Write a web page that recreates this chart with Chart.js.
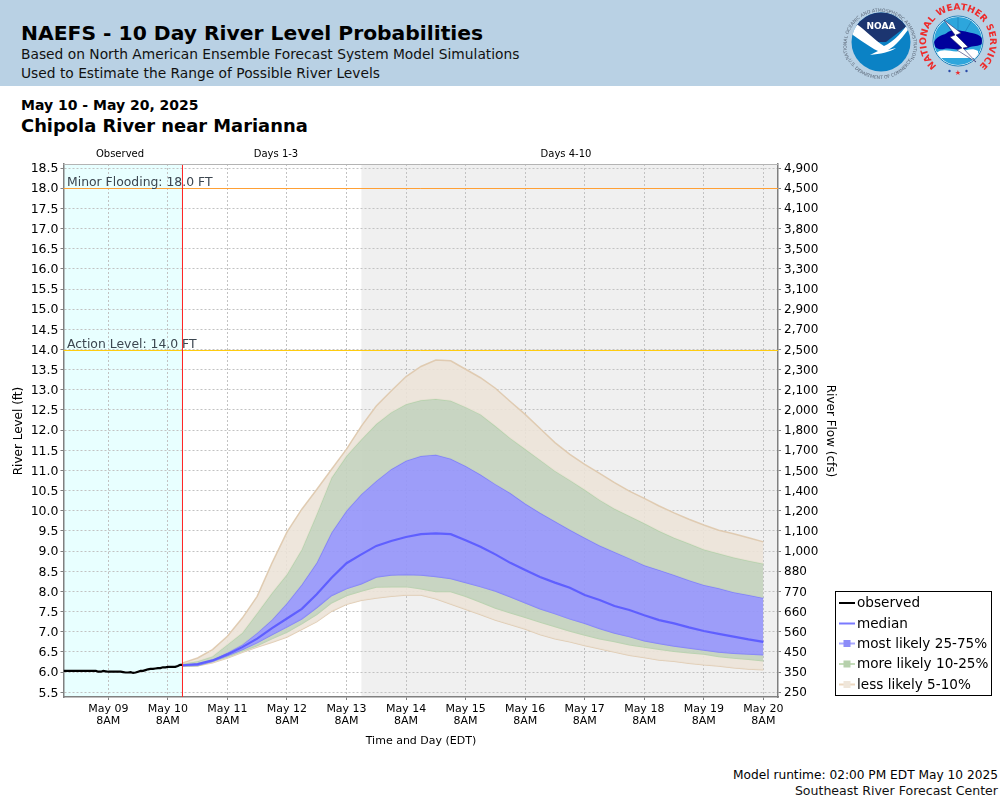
<!DOCTYPE html>
<html>
<head>
<meta charset="utf-8">
<title>NAEFS - 10 Day River Level Probabilities</title>
<script src="https://cdn.jsdelivr.net/npm/chart.js@4"></script>
<style>
    html, body { margin: 0; padding: 0; background: #fff; }
    body { position: relative; width: 1000px; height: 800px; overflow: hidden; font-family: "DejaVu Sans", sans-serif; color: #000; }
    #header { position: absolute; left: 0; top: 0; width: 1000px; height: 86px; background: #b9d1e4; }
    .txt { position: absolute; white-space: nowrap; }
    canvas { position: absolute; left: 0; top: 0; }
    svg { position: absolute; left: 0; top: 0; }
</style>
</head>
<body>
<div id="header"></div>
<div class="txt" style="left:21px;top:19px;font-size:20.3px;font-weight:bold;line-height:28px">NAEFS - 10 Day River Level Probabilities</div>
<div class="txt" style="left:21px;top:45px;font-size:13.8px;line-height:18px;color:#111">Based on North American Ensemble Forecast System Model Simulations</div>
<div class="txt" style="left:21px;top:64px;font-size:13.8px;line-height:18px;color:#111">Used to Estimate the Range of Possible River Levels</div>
<div class="txt" style="left:21px;top:96px;font-size:14px;font-weight:bold;line-height:18px">May 10 - May 20, 2025</div>
<div class="txt" style="left:21px;top:114px;font-size:17.9px;font-weight:bold;line-height:24px">Chipola River near Marianna</div>
<div class="txt" style="right:2px;top:767px;font-size:12.2px;line-height:16px">Model runtime: 02:00 PM EDT May 10 2025</div>
<div class="txt" style="right:2px;top:783px;font-size:12.55px;line-height:16px;color:#111">Southeast River Forecast Center</div>

<canvas id="riverChart" width="1000" height="800"></canvas>

<!-- logos, drawn by hand -->
<svg width="1000" height="86" viewBox="0 0 1000 86">
    <defs>
        <path id="noaaTop" d="M 851 62 A 33.5 33.5 0 1 1 909 62"/>
        <path id="noaaBottom" d="M 847 58 A 36.5 36.5 0 0 0 913 58"/>
        <path id="nwsTop" d="M 937 66 A 32 32 0 1 1 979 66"/>
        <clipPath id="noaaClip"><circle cx="881" cy="42" r="29.5"/></clipPath>
        <clipPath id="nwsClip"><circle cx="958" cy="41" r="24"/></clipPath>
    </defs>
    <text font-size="4.6" fill="#5a6676" font-family="DejaVu Sans"><textPath href="#noaaTop" startOffset="50%" text-anchor="middle">NATIONAL OCEANIC AND ATMOSPHERIC ADMINISTRATION</textPath></text>
    <text font-size="4.6" fill="#5a6676" font-family="DejaVu Sans"><textPath href="#noaaBottom" startOffset="50%" text-anchor="middle">U.S. DEPARTMENT OF COMMERCE</textPath></text>
    <g clip-path="url(#noaaClip)">
        <rect x="850" y="10" width="62" height="64" fill="#0b82c5"/>
        <path d="M 850 10 H 912 V 22 L 886 42 L 878 42 L 850 22 Z" fill="#1c3570"/>
        <path d="M 850 20 C 862 26 874 40 884 46 C 894 42 904 30 912 18 V 24 C 904 36 896 46 888 50 L 896 48 C 890 52 880 54 870 55 L 878 51 C 868 46 858 38 850 33 Z" fill="#fff"/>
    </g>
    <text x="881" y="29" text-anchor="middle" font-size="9" font-weight="bold" fill="#fff" font-family="DejaVu Sans">NOAA</text>

    <text font-size="9.2" font-weight="bold" fill="#ee2a2a" font-family="DejaVu Sans" letter-spacing="0.1"><textPath href="#nwsTop" startOffset="50%" text-anchor="middle">NATIONAL WEATHER SERVICE</textPath></text>
    <circle cx="958" cy="41" r="25" fill="#fff" stroke="#1b7fb8" stroke-width="1"/>
    <g clip-path="url(#nwsClip)">
        <rect x="934" y="17" width="48" height="48" fill="#2da6dc"/>
        <path d="M 958 17 V 32 M 945 20 L 952 32 M 972 20 L 965 32" stroke="#1b7fb8" stroke-width="0.7" fill="none"/>
        <path d="M 934 42 C 938 34 944 36 948 32 C 954 28 966 32 972 33 C 978 34 984 37 983 43 C 980 47 974 45 968 48 C 960 52 950 47 944 49 C 938 50 934 48 934 42 Z" fill="#00009c"/>
        <path d="M 936 53 C 944 47 952 53 960 51 C 966 51 972 47 978 51 V 58 H 936 Z" fill="#fff"/>
    </g>
    <path d="M 944 20 L 961 33 L 956 35 L 968 47 L 963 48 L 976 62 L 957 50 L 962 48 L 950 37 L 955 35 Z" fill="#fff" stroke="#2a2a6a" stroke-width="0.6"/>
    <circle cx="949.5" cy="71" r="1.2" fill="#2a4aa8"/>
    <circle cx="966.5" cy="71" r="1.2" fill="#2a4aa8"/>
    <text x="958" y="75" text-anchor="middle" font-size="7" fill="#ee2a2a" font-family="DejaVu Sans">★</text>
</svg>

<script>
// Hours are counted from May 09 8AM
const tickHours = [0, 24, 48, 72, 96, 120, 144, 168, 192, 216, 240, 264];
const tickDays = ['May 09', 'May 10', 'May 11', 'May 12', 'May 13', 'May 14', 'May 15', 'May 16', 'May 17', 'May 18', 'May 19', 'May 20'];

// Left and right axis labels, same positions (rating curve is not linear)
const stageTicks = [5.5, 6, 6.5, 7, 7.5, 8, 8.5, 9, 9.5, 10, 10.5, 11, 11.5, 12, 12.5, 13, 13.5, 14, 14.5, 15, 15.5, 16, 16.5, 17, 17.5, 18, 18.5];
const flowTicks = ['250', '350', '450', '560', '660', '770', '880', '1,000', '1,100', '1,200', '1,400', '1,500', '1,700', '1,800', '2,000', '2,100', '2,300', '2,500', '2,700', '2,900', '3,100', '3,300', '3,500', '3,800', '4,100', '4,500', '4,900'];

const observedHours = [-18, -17, -16, -15, -14, -13, -12, -11, -10, -9, -8, -7, -6, -5, -4, -3, -2, -1, 0, 1, 2, 3, 4, 5, 6, 7, 8, 9, 10, 11, 12, 13, 14, 15, 16, 17, 18, 19, 20, 21, 22, 23, 24, 25, 26, 27, 28, 29, 30];
const observed = [6.03, 6.03, 6.03, 6.03, 6.03, 6.03, 6.03, 6.03, 6.03, 6.03, 6.03, 6.03, 6.03, 6.03, 6.01, 6.01, 6.03, 6.02, 6.01, 6.01, 6.01, 6.01, 6.01, 6.01, 6.0, 5.99, 5.99, 6.0, 5.98, 5.99, 6.01, 6.03, 6.03, 6.05, 6.07, 6.08, 6.08, 6.09, 6.1, 6.1, 6.12, 6.12, 6.13, 6.13, 6.13, 6.13, 6.15, 6.18, 6.18];

const forecastHours = [30, 36, 42, 48, 54, 60, 66, 72, 78, 84, 90, 96, 102, 108, 114, 120, 126, 132, 138, 144, 150, 156, 162, 168, 174, 180, 186, 192, 198, 204, 210, 216, 222, 228, 234, 240, 246, 252, 258, 264];
const median = [6.17, 6.2, 6.29, 6.44, 6.62, 6.83, 7.09, 7.33, 7.57, 7.93, 8.34, 8.7, 8.92, 9.13, 9.25, 9.35, 9.42, 9.44, 9.42, 9.27, 9.11, 8.92, 8.71, 8.53, 8.36, 8.22, 8.09, 7.91, 7.79, 7.64, 7.54, 7.41, 7.29, 7.21, 7.11, 7.02, 6.95, 6.88, 6.81, 6.75];
const upper5 = [6.23, 6.35, 6.56, 6.89, 7.34, 7.88, 8.71, 9.47, 10.04, 10.53, 11.03, 11.53, 12.1, 12.6, 12.97, 13.33, 13.58, 13.74, 13.72, 13.51, 13.3, 13.04, 12.71, 12.39, 12.04, 11.69, 11.4, 11.15, 10.93, 10.7, 10.49, 10.31, 10.12, 9.95, 9.79, 9.65, 9.52, 9.43, 9.33, 9.23];
const upper10 = [6.21, 6.27, 6.39, 6.68, 6.97, 7.46, 7.96, 8.42, 9.04, 9.91, 10.82, 11.36, 11.77, 12.15, 12.44, 12.64, 12.74, 12.77, 12.73, 12.57, 12.39, 12.1, 11.8, 11.53, 11.26, 10.99, 10.76, 10.52, 10.27, 10.05, 9.87, 9.69, 9.5, 9.33, 9.19, 9.04, 8.94, 8.84, 8.76, 8.69];
const upper25 = [6.19, 6.21, 6.3, 6.48, 6.68, 6.97, 7.3, 7.71, 8.17, 8.71, 9.46, 10.0, 10.41, 10.74, 11.03, 11.24, 11.36, 11.39, 11.29, 11.11, 10.9, 10.66, 10.44, 10.18, 9.95, 9.74, 9.53, 9.33, 9.14, 8.98, 8.82, 8.65, 8.53, 8.41, 8.28, 8.16, 8.08, 7.98, 7.91, 7.84];
const lower25 = [6.16, 6.17, 6.27, 6.41, 6.56, 6.73, 6.93, 7.12, 7.32, 7.6, 7.9, 8.07, 8.19, 8.36, 8.41, 8.42, 8.41, 8.37, 8.32, 8.22, 8.12, 8.01, 7.87, 7.72, 7.57, 7.45, 7.32, 7.21, 7.08, 6.97, 6.88, 6.78, 6.71, 6.65, 6.6, 6.55, 6.5, 6.47, 6.45, 6.43];
const lower10 = [6.15, 6.16, 6.26, 6.38, 6.52, 6.66, 6.83, 6.99, 7.2, 7.43, 7.72, 7.9, 8.01, 8.11, 8.12, 8.12, 8.07, 8.0, 8.0, 7.88, 7.74, 7.59, 7.47, 7.36, 7.24, 7.13, 7.02, 6.92, 6.83, 6.76, 6.68, 6.62, 6.57, 6.52, 6.48, 6.45, 6.39, 6.35, 6.32, 6.28];
const lower5 = [6.15, 6.16, 6.23, 6.35, 6.49, 6.62, 6.74, 6.87, 7.06, 7.25, 7.51, 7.68, 7.78, 7.84, 7.88, 7.91, 7.91, 7.82, 7.69, 7.56, 7.43, 7.29, 7.18, 7.07, 6.93, 6.83, 6.75, 6.66, 6.58, 6.5, 6.42, 6.36, 6.3, 6.27, 6.22, 6.18, 6.15, 6.11, 6.08, 6.06];

// Flood levels and forecast periods
const minorFlood = 18;
const actionLevel = 14;
const nowHour = 29.9;
const days4Start = 102;

const FONT = '"DejaVu Sans", sans-serif';
const GRID = '#c2c2c2';
const TAN = 'rgba(236,227,215,0.88)';
const GREEN = 'rgba(196,211,190,0.92)';
const BLUE = 'rgba(150,150,250,0.92)';
const TAN_EDGE = 'rgba(222,200,172,0.9)';
const GREEN_EDGE = 'rgba(180,208,170,0.9)';
const BLUE_EDGE = 'rgba(125,125,250,0.9)';

const legendItems = [
    { label: 'observed', line: '#000000', box: null },
    { label: 'median', line: '#7a7aff', box: null },
    { label: 'most likely 25-75%', line: '#a8a8ff', box: '#8c8cf8' },
    { label: 'more likely 10-25%', line: '#c4dcba', box: '#b6d0ac' },
    { label: 'less likely 5-10%', line: '#ecd8c0', box: '#efe6da' }
];

function toPoints(hours, values) {
    return values.map((v, i) => ({ x: hours[i], y: v }));
}

function bandSet(label, values, edge, fillColor) {
    return {
        label: label,
        data: toPoints(forecastHours, values),
        borderColor: edge,
        borderWidth: 1.5,
        pointRadius: 0,
        backgroundColor: fillColor || 'transparent',
        fill: fillColor ? '+1' : false,
        order: 5
    };
}

// Background zones, drawn under the grid
const zonePlugin = {
    id: 'zones',
    beforeDraw(chart) {
        const { ctx, chartArea: a, scales: { x } } = chart;
        ctx.save();
        ctx.fillStyle = '#e8ffff';
        ctx.fillRect(a.left, a.top, x.getPixelForValue(nowHour) - a.left, a.height);
        ctx.fillStyle = '#f0f0f0';
        ctx.fillRect(x.getPixelForValue(days4Start), a.top, a.right - x.getPixelForValue(days4Start), a.height);
        ctx.restore();
    }
};

// Flood lines, red line, small labels and legend
const overlayPlugin = {
    id: 'overlay',
    afterDatasetsDraw(chart) {
        const { ctx, chartArea: a, scales: { x, y } } = chart;
        ctx.save();

        ctx.lineWidth = 1;
        ctx.strokeStyle = '#ffa035';
        ctx.beginPath();
        ctx.moveTo(a.left, Math.round(y.getPixelForValue(minorFlood)) + 0.5);
        ctx.lineTo(a.right, Math.round(y.getPixelForValue(minorFlood)) + 0.5);
        ctx.stroke();
        ctx.strokeStyle = '#ffcc10';
        ctx.beginPath();
        ctx.moveTo(a.left, Math.round(y.getPixelForValue(actionLevel)) + 0.5);
        ctx.lineTo(a.right, Math.round(y.getPixelForValue(actionLevel)) + 0.5);
        ctx.stroke();

        ctx.strokeStyle = '#ff2020';
        ctx.beginPath();
        ctx.moveTo(x.getPixelForValue(nowHour), a.top);
        ctx.lineTo(x.getPixelForValue(nowHour), a.bottom);
        ctx.stroke();

        ctx.strokeStyle = '#b4b4b4';
        ctx.beginPath();
        ctx.moveTo(a.left, a.top + 0.5);
        ctx.lineTo(a.right, a.top + 0.5);
        ctx.stroke();

        ctx.fillStyle = '#3c4650';
        ctx.font = '12.4px ' + FONT;
        ctx.textAlign = 'left';
        ctx.textBaseline = 'alphabetic';
        ctx.fillText('Minor Flooding: ' + minorFlood.toFixed(1) + ' FT', 67, y.getPixelForValue(minorFlood) - 2);
        ctx.fillText('Action Level: ' + actionLevel.toFixed(1) + ' FT', 67, y.getPixelForValue(actionLevel) - 2);

        ctx.restore();
    },
    afterDraw(chart) {
        const { ctx } = chart;
        ctx.save();
        ctx.fillStyle = '#000';

        // period names above the plot
        ctx.font = '10px ' + FONT;
        ctx.textAlign = 'center';
        ctx.textBaseline = 'alphabetic';
        ctx.fillText('Observed', 120, 157);
        ctx.fillText('Days 1-3', 276, 157);
        ctx.fillText('Days 4-10', 566, 157);

        // axis titles
        ctx.font = '11px ' + FONT;
        ctx.fillText('Time and Day (EDT)', 421, 744);
        ctx.font = '12px ' + FONT;
        ctx.save();
        ctx.translate(22, 431);
        ctx.rotate(-Math.PI / 2);
        ctx.fillText('River Level (ft)', 0, 0);
        ctx.restore();
        ctx.save();
        ctx.translate(827, 431);
        ctx.rotate(Math.PI / 2);
        ctx.fillText('River Flow (cfs)', 0, 0);
        ctx.restore();

        // legend box
        ctx.fillStyle = '#fff';
        ctx.fillRect(835.5, 591.5, 156, 104);
        ctx.strokeStyle = '#000';
        ctx.lineWidth = 1;
        ctx.strokeRect(835.5, 591.5, 156, 104);
        ctx.font = '13.6px ' + FONT;
        ctx.textAlign = 'left';
        ctx.textBaseline = 'middle';
        const rows = [603, 623.5, 643.5, 664, 684.5];
        legendItems.forEach((item, i) => {
            ctx.strokeStyle = item.line;
            ctx.lineWidth = 2;
            ctx.beginPath();
            ctx.moveTo(839, rows[i]);
            ctx.lineTo(855, rows[i]);
            ctx.stroke();
            if (item.box) {
                ctx.fillStyle = item.box;
                ctx.fillRect(843.5, rows[i] - 3.5, 7, 7);
            }
            ctx.fillStyle = '#000';
            ctx.fillText(item.label, 857, rows[i] + 0.5);
        });
        ctx.restore();
    }
};

const ctx = document.getElementById('riverChart').getContext('2d');
window.riverChart = new Chart(ctx, {
    type: 'line',
    data: {
        datasets: [
            { label: 'observed', data: toPoints(observedHours, observed), borderColor: '#000', borderWidth: 2.2, pointRadius: 0, fill: false, order: 0 },
            { label: 'median', data: toPoints(forecastHours, median), borderColor: '#5f5fff', borderWidth: 2.2, pointRadius: 0, fill: false, order: 1 },
            bandSet('upper 5%', upper5, TAN_EDGE, TAN),
            bandSet('upper 10%', upper10, GREEN_EDGE, GREEN),
            bandSet('upper 25%', upper25, BLUE_EDGE, BLUE),
            bandSet('lower 25%', lower25, BLUE_EDGE, GREEN),
            bandSet('lower 10%', lower10, GREEN_EDGE, TAN),
            bandSet('lower 5%', lower5, TAN_EDGE, null)
        ]
    },
    plugins: [zonePlugin, overlayPlugin],
    options: {
        responsive: false,
        animation: false,
        devicePixelRatio: 1,
        layout: { padding: { top: 164, left: 0, right: 0, bottom: 0 } },
        plugins: { legend: { display: false }, tooltip: { enabled: false }, title: { display: false } },
        scales: {
            x: {
                type: 'linear',
                min: -18.05,
                max: 269.9,
                afterBuildTicks(scale) { scale.ticks = tickHours.map(h => ({ value: h })); },
                afterFit(scale) { scale.height = 103; },
                grid: { color: GRID, tickBorderDash: [], tickColor: '#808080', tickLength: 3, lineWidth: 1 },
                border: { display: true, color: '#808080', width: 1.5, dash: [2, 2] },
                ticks: {
                    autoSkip: false,
                    maxRotation: 0,
                    padding: 3,
                    color: '#000',
                    font: { family: FONT, size: 11, lineHeight: 1.1 },
                    callback(value) { return [tickDays[tickHours.indexOf(value)], '8AM']; }
                }
            },
            y: {
                position: 'left',
                min: 5.383,
                max: 18.6,
                afterBuildTicks(scale) { scale.ticks = stageTicks.map(v => ({ value: v })); },
                afterFit(scale) { scale.width = 63.5; },
                grid: { color: GRID, tickBorderDash: [], tickColor: '#808080', tickLength: 3, lineWidth: 1 },
                border: { display: true, color: '#808080', width: 1.5, dash: [2, 2] },
                ticks: {
                    autoSkip: false,
                    padding: 2,
                    labelOffset: 1,
                    color: '#000',
                    font: { family: FONT, size: 12.5 },
                    callback(value) { return value.toFixed(1); }
                }
            },
            y1: {
                position: 'right',
                min: 5.383,
                max: 18.6,
                afterBuildTicks(scale) { scale.ticks = stageTicks.map(v => ({ value: v })); },
                afterFit(scale) { scale.width = 222; },
                grid: { drawOnChartArea: false, tickColor: '#808080', tickLength: 3 },
                border: { display: true, color: '#808080', width: 1.5 },
                ticks: {
                    autoSkip: false,
                    padding: 3,
                    labelOffset: 1,
                    color: '#000',
                    font: { family: FONT, size: 12 },
                    callback(value) { return flowTicks[stageTicks.indexOf(value)]; }
                }
            }
        }
    }
});
</script>
</body>
</html>
